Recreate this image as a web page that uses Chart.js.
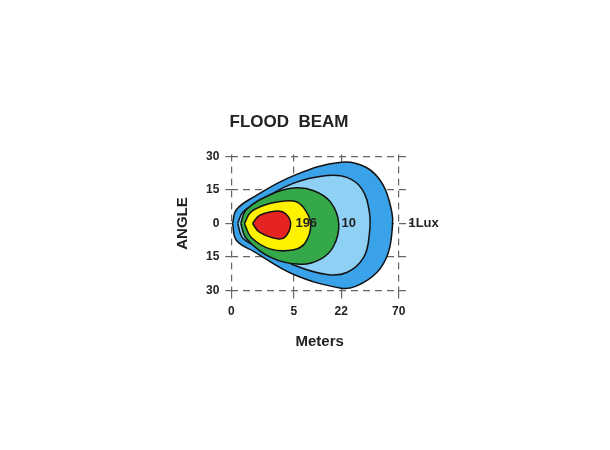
<!DOCTYPE html>
<html><head><meta charset="utf-8">
<script src="https://cdn.jsdelivr.net/npm/chart.js@4/dist/chart.umd.min.js"></script>
<style>html,body{margin:0;padding:0;background:#fff}#w{width:610px;height:450px}</style>
</head><body><div id="w"><canvas id="c"></canvas></div>
<script>
// x in plot units: tick positions for distance labels (meters)
const xTickPos = [0, 1, 1.76, 2.68];
const xTickLabels = ['0', '5', '22', '70'];
const yTickVals = [30, 15, 0, -15, -30];
const yTickLabels = ['30', '15', '0', '15', '30'];
const zoneNames = ['1 Lux', '10', '~', '196', 'peak'];
const outer = [[0.02,0],[0.08,6.2],[0.37,12.1],[1.0,21.5],[1.76,27.5],[2.17,25],[2.43,17.3],[2.57,5.3],[2.58,-1.5],[2.51,-13.5],[2.33,-22],[2.01,-28],[1.76,-29],[1.0,-22.9],[0.37,-12.7],[0.08,-7.5]];
const lightBlue = [[0.1,0],[0.19,5.3],[0.53,11.3],[1.0,18.1],[1.53,21.5],[1.85,20.7],[2.09,15.5],[2.21,5.3],[2.21,-5],[2.12,-15.2],[1.85,-22],[1.53,-22.9],[1.0,-18.6],[0.53,-11.8],[0.19,-6.7]];
const green = [[0.15,0],[0.24,6.2],[0.63,13],[1.0,15.9],[1.32,14.7],[1.59,9.6],[1.72,0],[1.64,-10.1],[1.43,-16],[1.11,-18.3],[0.63,-15.2],[0.24,-6.7]];
const yellow = [[0.21,0],[0.32,5.3],[0.63,9.1],[1.0,10.1],[1.16,7],[1.27,0],[1.19,-8.4],[1.0,-11.8],[0.63,-11.5],[0.32,-6.3]];
const red = [[0.34,0],[0.45,3.6],[0.74,5.6],[0.87,4.4],[0.95,0],[0.87,-5.8],[0.74,-6.9],[0.45,-3.9]];
const labels = [{t:'196',x:1.2,y:0},{t:'10',x:1.88,y:0},{t:'1Lux',x:3.08,y:0}];

function ds(pts, color, order){
  const d = pts.map(p=>({x:p[0],y:p[1]})); d.push({x:pts[0][0],y:pts[0][1]});
  return {data:d, backgroundColor:color, borderColor:'#111', borderWidth:1.5, fill:'shape', showLine:true, tension:0.4, pointRadius:0, order:order};
}
const txt = {id:'txt', afterDatasetsDraw(ch){
  const c=ch.ctx; c.save(); c.font='bold 13px Arial'; c.fillStyle='#222'; c.textAlign='center'; c.textBaseline='middle';
  labels.forEach(l=>{c.fillText(l.t, ch.scales.x.getPixelForValue(l.x), ch.scales.y.getPixelForValue(l.y));});
  c.fillText('-', ch.scales.x.getPixelForValue(2.83)+3, ch.scales.y.getPixelForValue(0));
  c.restore();}};
new Chart(document.getElementById('c'), {
  type:'scatter',
  data:{datasets:[ds(red,'#e52421',1), ds(yellow,'#fff200',2), ds(green,'#35a84a',3), ds(lightBlue,'#8fd0f5',4), ds(outer,'#3aa2e8',5)]},
  plugins:[txt],
  options:{responsive:true, maintainAspectRatio:false, animation:false,
    layout:{padding:{left:170, right:202, top:112, bottom:95}},
    plugins:{legend:{display:false}, tooltip:{enabled:false},
      title:{display:true, text:'FLOOD  BEAM', color:'#222', font:{size:17, weight:'bold', family:'Arial'}, padding:{top:0,bottom:22}}},
    scales:{
      x:{type:'linear', min:0, max:2.83, z:1,
        afterBuildTicks(s){ s.ticks = xTickPos.map(v=>({value:v})); },
        ticks:{callback:(v,i)=>xTickLabels[i], color:'#222', font:{size:12, weight:'bold', family:'Arial'}, padding:6},
        grid:{color:'#666', lineWidth:1.2, tickLength:6},
        border:{display:false, dash:[7,5]},
        title:{display:true, text:'Meters', color:'#222', font:{size:15, weight:'bold', family:'Arial'}, padding:{top:8}}},
      y:{type:'linear', min:-31, max:31, z:1,
        afterBuildTicks(s){ s.ticks = yTickVals.map(v=>({value:v})); },
        ticks:{callback:(v,i)=>yTickLabels[i], color:'#222', font:{size:12, weight:'bold', family:'Arial'}, padding:6},
        grid:{color:'#666', lineWidth:1.2, tickLength:6},
        border:{display:false, dash:[7,5]},
        title:{display:true, text:'ANGLE', color:'#222', font:{size:15, weight:'bold', family:'Arial'}, padding:{bottom:8}}}
    }}
});
</script></body></html>
